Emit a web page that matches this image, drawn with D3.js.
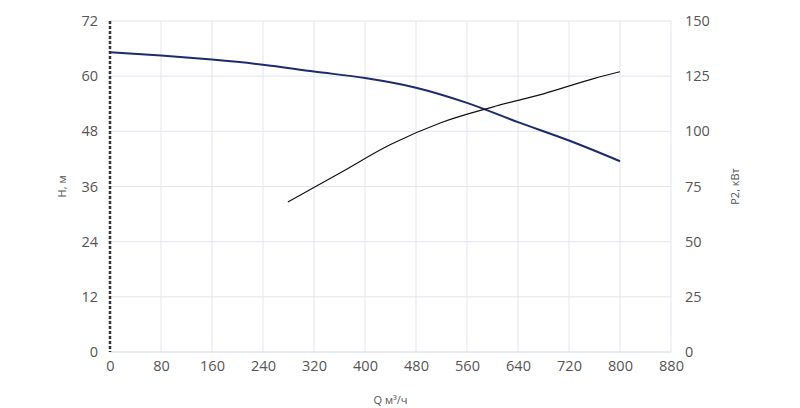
<!DOCTYPE html>
<html><head><meta charset="utf-8">
<script src="https://cdn.jsdelivr.net/npm/d3@7"></script>
<style>body{margin:0;background:#fff;font-family:"Open Sans",sans-serif}</style>
</head><body><div id="chart"></div>
<script>
var xTicks = [0,80,160,240,320,400,480,560,640,720,800,880];
var hTicks = [0,12,24,36,48,60,72];
var pTicks = [0,25,50,75,100,125,150];
var hQ = [0,80,160,240,320,400,480,560,640,720,800];
var hVal = [65.2,64.5,63.6,62.5,61.0,59.6,57.5,54.2,50.0,46.0,41.5];
var pQ = [279,360,440,520,600,680,760,800];
var pVal = [68,81,94,104,111,117,124,127];

var margin = {top: 21, right: 129, bottom: 56, left: 110},
    width = 800 - margin.left - margin.right,
    height = 408 - margin.top - margin.bottom;

var svg = d3.select("#chart").append("svg")
    .attr("width", 800).attr("height", 408)
    .append("g")
    .attr("transform", "translate(" + margin.left + "," + margin.top + ")");

var x = d3.scaleLinear().domain([0,880]).range([0,width]);
var yH = d3.scaleLinear().domain([0,72]).range([height,0]);
var yP = d3.scaleLinear().domain([0,150]).range([height,0]);

// grid
svg.selectAll("vg").data(xTicks).enter().append("line")
    .attr("x1", d => x(d)).attr("x2", d => x(d)).attr("y1", 0).attr("y2", height)
    .attr("stroke", "#e1e5ee");
svg.selectAll("hg").data(hTicks).enter().append("line")
    .attr("x1", 0).attr("x2", width).attr("y1", d => yH(d)).attr("y2", d => yH(d))
    .attr("stroke", d => d == 0 ? "#cfd8ee" : "#e1e5ee");

function style(g) {
    g.select(".domain").remove();
    g.selectAll("line").remove();
    g.selectAll("text").attr("fill", "#555").style("font-size", "14.5px").style("font-family", "Open Sans");
}
svg.append("g").attr("transform", "translate(0," + height + ")")
    .call(d3.axisBottom(x).tickValues(xTicks).tickSize(0).tickPadding(9)).call(style);
svg.append("g").call(d3.axisLeft(yH).tickValues(hTicks).tickSize(0).tickPadding(12)).call(style);
svg.append("g").attr("transform", "translate(" + width + ",0)")
    .call(d3.axisRight(yP).tickValues(pTicks).tickSize(0).tickPadding(14)).call(style);

// left dashed axis line
svg.append("line").attr("x1", 0).attr("x2", 0).attr("y1", 0).attr("y2", height)
    .attr("stroke", "#333").attr("stroke-width", 2.5).attr("stroke-dasharray", "3,2");

svg.append("text").attr("transform", "translate(-44," + height/2 + ") rotate(-90)")
    .attr("text-anchor", "middle").attr("fill", "#555").style("font-size", "11px").text("H, м");
svg.append("text").attr("transform", "translate(" + (width+68) + "," + height/2 + ") rotate(-90)")
    .attr("text-anchor", "middle").attr("fill", "#555").style("font-size", "11px").text("P2, кВт");
svg.append("text").attr("x", x(440)).attr("y", height + 52)
    .attr("text-anchor", "middle").attr("fill", "#555").style("font-size", "11px").text("Q м³/ч");

svg.append("path").datum(d3.zip(hQ, hVal))
    .attr("fill", "none").attr("stroke", "#1d2a6b").attr("stroke-width", 2)
    .attr("d", d3.line().x(d => x(d[0])).y(d => yH(d[1])).curve(d3.curveMonotoneX));
svg.append("path").datum(d3.zip(pQ, pVal))
    .attr("fill", "none").attr("stroke", "#111").attr("stroke-width", 1.2)
    .attr("d", d3.line().x(d => x(d[0])).y(d => yP(d[1])).curve(d3.curveMonotoneX));
</script></body></html>
